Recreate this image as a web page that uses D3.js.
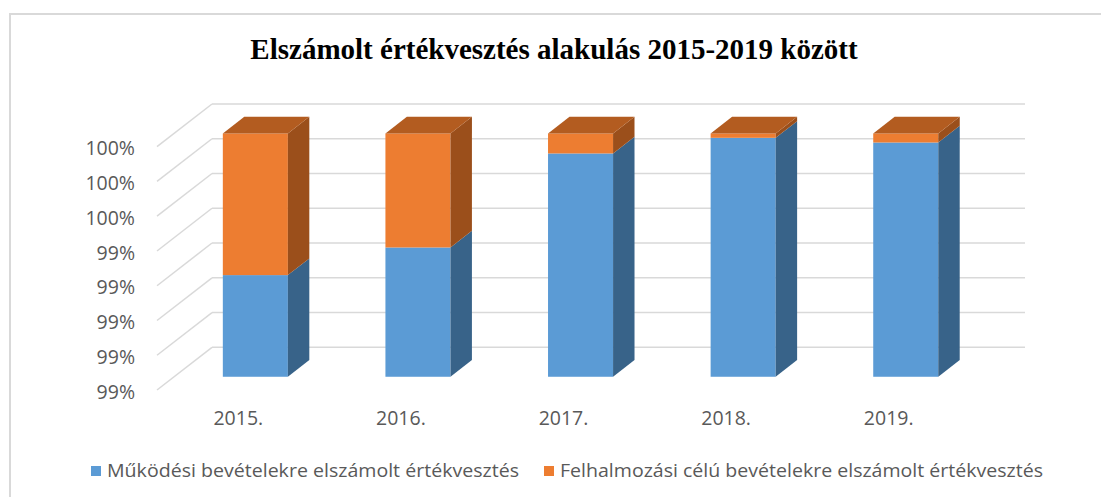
<!DOCTYPE html>
<meta charset="utf-8">
<style>
body { margin: 0; background: #fff; }
.tick text { font-family: "Open Sans", sans-serif; fill: #595959; }
.grid line { stroke: #d9d9d9; stroke-width: 1.5px; }
</style>
<body>
<svg width="1101" height="497"></svg>
</body>
<script src="https://d3js.org/d3.v7.min.js"></script>
<script>

var years = ["2015.", "2016.", "2017.", "2018.", "2019."];
var mukodesi = [0.99185, 0.99344, 0.99885, 0.99975, 0.99948];
var felhalmozasi = [0.00815, 0.00656, 0.00115, 0.00025, 0.00052];
var tickValues = [0.986, 0.988, 0.990, 0.992, 0.994, 0.996, 0.998, 1.000];
var seriesNames = ["Működési bevételekre elszámolt értékvesztés",
                   "Felhalmozási célú bevételekre elszámolt értékvesztés"];

var colors = [
  {front: "#5b9bd5", side: "#386389", top: "#4a80b0"},
  {front: "#ed7d31", side: "#9b4f1b", top: "#b35c20"}
];

var svg = d3.select("svg");

// chart border
svg.append("rect")
    .attr("x", 10).attr("y", 14)
    .attr("width", 1110).attr("height", 500)
    .attr("fill", "none")
    .attr("stroke", "#d9d9d9")
    .attr("stroke-width", 2);

// title
svg.append("text")
    .attr("x", 554).attr("y", 59)
    .attr("text-anchor", "middle")
    .style("font-family", "'Liberation Serif', 'Times New Roman', serif")
    .style("font-weight", "bold")
    .style("font-size", "29px")
    .text("Elszámolt értékvesztés alakulás 2015-2019 között");

// 3d projection: front plane + depth offset
var depthX = 55, depthY = 42.7;
var z0 = 0.31, z1 = 0.70;

var x = d3.scaleBand()
    .domain(years)
    .range([157, 970])
    .paddingInner(0.6)
    .paddingOuter(0.3);

var y = d3.scaleLinear()
    .domain([0.986, 1.0])
    .range([390, 146.7]);

// back wall gridlines + left wall diagonals
var grid = svg.append("g").attr("class", "grid");
grid.selectAll("line.h")
  .data(tickValues)
  .enter().append("line")
    .attr("class", "h")
    .attr("x1", 157 + depthX)
    .attr("x2", 970 + depthX)
    .attr("y1", function(d) { return y(d) - depthY; })
    .attr("y2", function(d) { return y(d) - depthY; });
grid.selectAll("line.d")
  .data(tickValues)
  .enter().append("line")
    .attr("class", "d")
    .attr("x1", 157)
    .attr("x2", 157 + depthX)
    .attr("y1", function(d) { return y(d); })
    .attr("y2", function(d) { return y(d) - depthY; });

// stacked data
var rows = years.map(function(yr, i) {
  return {year: yr, a: mukodesi[i], b: felhalmozasi[i]};
});
var stack = d3.stack().keys(["a", "b"]);
var layers = stack(rows);

var bars = svg.append("g");
var ox0 = depthX * z0, oy0 = depthY * z0;
var ox1 = depthX * z1, oy1 = depthY * z1;

layers.forEach(function(layer, li) {
  var col = colors[li];
  layer.forEach(function(d) {
    var bx = x(d.data.year) + ox0;
    var w = x.bandwidth();
    var yb = y(Math.max(d[0], 0.986)) - oy0;
    var yt = y(d[1]) - oy0;
    var ddx = ox1 - ox0, ddy = oy1 - oy0;
    // front
    bars.append("rect")
        .attr("x", bx).attr("y", yt)
        .attr("width", w).attr("height", yb - yt)
        .attr("fill", col.front);
    // side
    bars.append("path")
        .attr("d", "M" + (bx + w) + "," + yb +
                   "L" + (bx + w + ddx) + "," + (yb - ddy) +
                   "L" + (bx + w + ddx) + "," + (yt - ddy) +
                   "L" + (bx + w) + "," + yt + "Z")
        .attr("fill", col.side);
    // top only on the last series
    if (li === layers.length - 1) {
      bars.append("path")
          .attr("d", "M" + bx + "," + yt +
                     "L" + (bx + w) + "," + yt +
                     "L" + (bx + w + ddx) + "," + (yt - ddy) +
                     "L" + (bx + ddx) + "," + (yt - ddy) + "Z")
          .attr("fill", col.top);
    }
  });
});

// y axis labels
var yAxis = svg.append("g")
    .attr("transform", "translate(157,2)")
    .call(d3.axisLeft(y)
        .tickValues(tickValues)
        .tickSize(0)
        .tickPadding(22)
        .tickFormat(d3.format(".0%")));
yAxis.select(".domain").remove();
yAxis.selectAll("text").style("font-size", "19.5px");

// x axis labels
var xAxis = svg.append("g")
    .attr("transform", "translate(0,394)")
    .call(d3.axisBottom(x).tickSize(0).tickPadding(17));
xAxis.select(".domain").remove();
xAxis.selectAll("text").style("font-size", "19.5px");

// legend
var legend = svg.append("g")
    .attr("transform", "translate(91,471)");
var lx = [0, 453];
var lw = [412, 483];
seriesNames.forEach(function(name, i) {
  var g = legend.append("g").attr("transform", "translate(" + lx[i] + ",0)");
  g.append("rect")
      .attr("x", 0).attr("y", -5)
      .attr("width", 10).attr("height", 10)
      .attr("fill", colors[i].front);
  g.append("text")
      .attr("x", 16).attr("y", 0)
      .attr("dy", "0.35em")
      .attr("textLength", lw[i])
      .attr("lengthAdjust", "spacingAndGlyphs")
      .style("font-family", "'Open Sans', sans-serif")
      .style("font-size", "18px")
      .style("fill", "#595959")
      .text(name);
});

</script>
</html>
